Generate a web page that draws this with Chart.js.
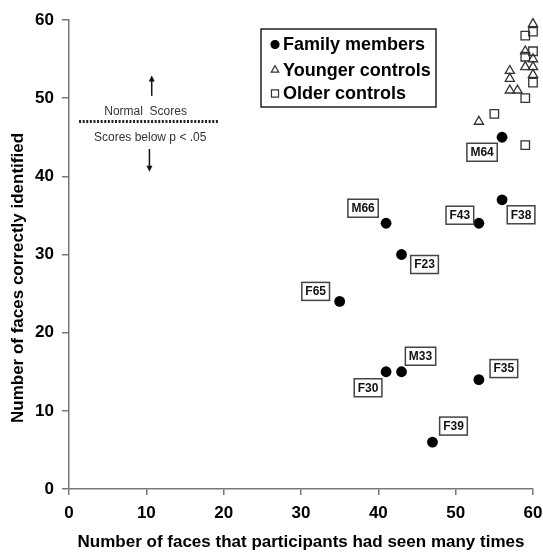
<!DOCTYPE html>
<html>
<head>
<meta charset="utf-8">
<script src="https://cdn.jsdelivr.net/npm/chart.js@4/dist/chart.umd.min.js"></script>
<style>
  html, body { margin: 0; padding: 0; background: #fff; }
  #wrap { width: 543px; height: 553px; position: relative; }
</style>
</head>
<body>
<div id="wrap"><canvas id="c" width="543" height="553"></canvas></div>
<script>
// ---- Data ----
const familyNames = ['M64', 'F38', 'F43', 'M66', 'F23', 'F65', 'F30', 'M33', 'F35', 'F39'];
const familyX = [56, 56, 53, 41, 43, 35, 41, 43, 53, 47];
const familyY = [45, 37, 34, 34, 30, 24, 15, 15, 14, 6];

const youngerX = [60, 59, 60, 59, 60, 60, 57, 57, 57, 58, 53];
const youngerY = [59.5, 56, 55, 54, 54, 53, 53.5, 52.5, 51, 51, 47];

const olderX = [60, 59, 60, 59, 60, 59, 55, 59];
const olderY = [58.5, 58, 56, 55.3, 52, 50, 48, 44];

const cutoffY = 47;
const cutoffXRange = [1.3, 19.3];

const seriesLabels = ['Family members', 'Younger controls', 'Older controls'];
const xTicks = [0, 10, 20, 30, 40, 50, 60];
const yTicks = [0, 10, 20, 30, 40, 50, 60];
const xTitle = 'Number of faces that participants had seen many times';
const yTitle = 'Number of faces correctly identified';
const aboveText = 'Normal  Scores';
const belowText = 'Scores below p < .05';

// ---- Styles / positions (not data) ----
const FONT = '"Liberation Sans", Arial, Helvetica, sans-serif';
// pixel offsets of name boxes from their points
const labelOffsets = [[-20, 15], [19, 15], [-19, -8], [-23, -15], [23, 10], [-24, -10], [-18, 16], [19, -15.5], [25, -11], [21, -16]];

const zip = (xs, ys) => xs.map((x, i) => ({ x, y: ys[i] }));

const annotationPlugin = {
  id: 'annotations',
  afterDatasetsDraw(chart) {
    const ctx = chart.ctx;
    const xs = chart.scales.x, ys = chart.scales.y;
    ctx.save();
    // y axis title (placed like the reference, slightly below axis centre)
    ctx.save();
    ctx.translate(18, 278);
    ctx.rotate(-Math.PI / 2);
    ctx.fillStyle = '#000';
    ctx.font = 'bold 17px ' + FONT;
    ctx.textAlign = 'center';
    ctx.textBaseline = 'middle';
    ctx.fillText(yTitle, 0, 0);
    ctx.restore();

    // texts around cutoff
    ctx.fillStyle = '#333';
    ctx.font = '12px ' + FONT;
    ctx.textAlign = 'center';
    ctx.textBaseline = 'middle';
    ctx.fillText(aboveText, xs.getPixelForValue(9.9), ys.getPixelForValue(48.3));
    ctx.fillText(belowText, xs.getPixelForValue(10.5), ys.getPixelForValue(45.0));
    // arrows
    const arrow = (xv, y0, y1) => {
      const x = xs.getPixelForValue(xv);
      const p0 = ys.getPixelForValue(y0), p1 = ys.getPixelForValue(y1);
      const dir = p1 < p0 ? -1 : 1;
      ctx.strokeStyle = '#111';
      ctx.lineWidth = 1.5;
      ctx.beginPath();
      ctx.moveTo(x, p0);
      ctx.lineTo(x, p1 - dir * 5);
      ctx.stroke();
      ctx.fillStyle = '#111';
      ctx.beginPath();
      ctx.moveTo(x, p1);
      ctx.lineTo(x - 3, p1 - dir * 6);
      ctx.lineTo(x + 3, p1 - dir * 6);
      ctx.closePath();
      ctx.fill();
    };
    arrow(10.7, 50.3, 52.9);
    arrow(10.4, 43.5, 40.6);

    // name boxes
    const meta = chart.getDatasetMeta(0);
    ctx.font = 'bold 12px ' + FONT;
    meta.data.forEach((pt, i) => {
      const cx = pt.x + labelOffsets[i][0];
      const cy = pt.y + labelOffsets[i][1];
      const w = ctx.measureText(familyNames[i]).width + 7;
      const h = 18;
      ctx.fillStyle = '#fff';
      ctx.fillRect(cx - w / 2, cy - h / 2, w, h);
      ctx.strokeStyle = '#444';
      ctx.lineWidth = 1.5;
      ctx.strokeRect(cx - w / 2, cy - h / 2, w, h);
      ctx.fillStyle = '#111';
      ctx.textAlign = 'center';
      ctx.textBaseline = 'middle';
      ctx.fillText(familyNames[i], cx, cy + 0.5);
    });

    // legend box
    const lx = 261, ly = 29, lw = 175, lh = 78;
    ctx.fillStyle = '#fff';
    ctx.fillRect(lx, ly, lw, lh);
    ctx.strokeStyle = '#222';
    ctx.lineWidth = 1.5;
    ctx.strokeRect(lx, ly, lw, lh);
    const rowsY = [44.5, 70, 93.5];
    const legendRadius = [4, 4.3, 5];
    ctx.font = 'bold 18px ' + FONT;
    ctx.textAlign = 'left';
    ctx.textBaseline = 'middle';
    for (let i = 0; i < 3; i++) {
      const ds = chart.data.datasets[i];
      ctx.fillStyle = ds.backgroundColor;
      ctx.strokeStyle = ds.borderColor;
      ctx.lineWidth = 1.2;
      Chart.helpers.drawPoint(ctx, { pointStyle: ds.pointStyle, radius: legendRadius[i], borderWidth: 1.2 }, 275, rowsY[i]);
      ctx.fillStyle = '#000';
      ctx.fillText(seriesLabels[i], 283, rowsY[i] + 1);
    }
    ctx.restore();
  }
};

const chart = new Chart(document.getElementById('c'), {
  type: 'scatter',
  data: {
    datasets: [
      {
        label: seriesLabels[0],
        data: zip(familyX, familyY),
        pointStyle: 'circle',
        pointRadius: 5.4,
        backgroundColor: '#000',
        borderColor: '#000',
        borderWidth: 0,
        clip: false
      },
      {
        label: seriesLabels[1],
        data: zip(youngerX, youngerY),
        pointStyle: 'triangle',
        pointRadius: 5.3,
        backgroundColor: 'rgba(0,0,0,0)',
        borderColor: '#333',
        borderWidth: 1.3,
        clip: false
      },
      {
        label: seriesLabels[2],
        data: zip(olderX, olderY),
        pointStyle: 'rect',
        pointRadius: 6,
        backgroundColor: 'rgba(0,0,0,0)',
        borderColor: '#333',
        borderWidth: 1.3,
        clip: false
      },
      {
        type: 'line',
        label: 'cutoff',
        data: [{ x: cutoffXRange[0], y: cutoffY }, { x: cutoffXRange[1], y: cutoffY }],
        borderColor: '#222',
        borderWidth: 3,
        borderDash: [2, 1.6],
        pointRadius: 0,
        fill: false
      }
    ]
  },
  options: {
    responsive: false,
    animation: false,
    devicePixelRatio: 1,
    layout: { padding: { top: 20, right: 0, left: 0, bottom: 0 } },
    plugins: { legend: { display: false }, tooltip: { enabled: false } },
    scales: {
      x: {
        type: 'linear',
        min: 0, max: 60,
        afterBuildTicks: (s) => { s.ticks = xTicks.map(v => ({ value: v })); },
        afterFit: (s) => { s.height = 64; s.paddingLeft = 0; s.paddingRight = 10; },
        grid: { drawOnChartArea: false, drawTicks: true, tickLength: 6, color: '#777', lineWidth: 1.5 },
        border: { color: '#777', width: 1.5 },
        ticks: { color: '#000', padding: 8, font: { family: FONT, size: 17, weight: 'bold' } },
        title: { display: true, text: xTitle, color: '#000', padding: { top: 3, bottom: 0 }, font: { family: FONT, size: 17, weight: 'bold' } }
      },
      y: {
        type: 'linear',
        min: 0, max: 60,
        afterBuildTicks: (s) => { s.ticks = yTicks.map(v => ({ value: v })); },
        afterFit: (s) => { s.width = 69; },
        grid: { drawOnChartArea: false, drawTicks: true, tickLength: 7, color: '#777', lineWidth: 1.5 },
        border: { color: '#777', width: 1.5 },
        ticks: { color: '#000', padding: 8, font: { family: FONT, size: 17, weight: 'bold' } },
        title: { display: false }
      }
    }
  },
  plugins: [annotationPlugin]
});
</script>
</body>
</html>
